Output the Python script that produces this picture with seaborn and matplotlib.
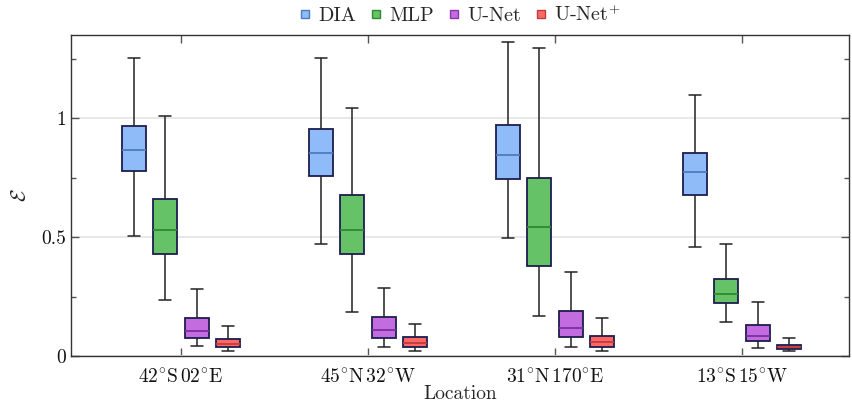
import matplotlib
matplotlib.use("Agg")
import matplotlib.pyplot as plt
from matplotlib.lines import Line2D
from matplotlib.ticker import FixedLocator, MultipleLocator
import seaborn as sns
import pandas as pd

# Locations and models
locations = [r"$42^{\circ}\mathrm{S}\,02^{\circ}\mathrm{E}$",
             r"$45^{\circ}\mathrm{N}\,32^{\circ}\mathrm{W}$",
             r"$31^{\circ}\mathrm{N}\,170^{\circ}\mathrm{E}$",
             r"$13^{\circ}\mathrm{S}\,15^{\circ}\mathrm{W}$"]
models = ["DIA", "MLP", "U-Net", "U-Net$^{+}$"]

# Five-number summaries (min, Q1, median, Q3, max) of the error per location
dia = [[0.506, 0.777, 0.868, 0.966, 1.255],
       [0.471, 0.757, 0.853, 0.955, 1.255],
       [0.496, 0.745, 0.847, 0.973, 1.320],
       [0.459, 0.676, 0.774, 0.854, 1.097]]
mlp = [[0.235, 0.430, 0.528, 0.659, 1.010],
       [0.184, 0.427, 0.530, 0.677, 1.045],
       [0.170, 0.378, 0.544, 0.749, 1.294],
       [0.143, 0.222, 0.260, 0.322, 0.471]]
unet = [[0.042, 0.076, 0.104, 0.159, 0.282],
        [0.038, 0.077, 0.111, 0.163, 0.287],
        [0.038, 0.080, 0.117, 0.188, 0.353],
        [0.035, 0.065, 0.083, 0.129, 0.229]]
unet_plus = [[0.021, 0.038, 0.052, 0.073, 0.128],
             [0.021, 0.038, 0.055, 0.079, 0.136],
             [0.020, 0.037, 0.060, 0.086, 0.159],
             [0.020, 0.031, 0.039, 0.048, 0.076]]

fill_colors = ["#8fbcf9", "#66c266", "#c26cdf", "#ff6767"]
median_colors = ["#4b7cc0", "#2f8a2f", "#7c2fa0", "#c23b3b"]
legend_edges = ["#4b7cc0", "#2f8a2f", "#8a35b0", "#c23b3b"]

rows = []
for model, summaries in zip(models, [dia, mlp, unet, unet_plus]):
    for loc, stats in zip(locations, summaries):
        for v in stats:
            rows.append({"Location": loc, "Model": model, "value": v})
df = pd.DataFrame(rows)

sns.set_style("ticks")
plt.rcParams["font.family"] = ["cmr10", "DejaVu Serif"]
plt.rcParams["mathtext.fontset"] = "cm"
plt.rcParams["axes.formatter.use_mathtext"] = True

fig = plt.figure(figsize=(8.52, 4.04), dpi=100)
ax = fig.add_axes([0.0833, 0.1188, 0.9132, 0.7946])

edge = "#1d1d4f"
sns.boxplot(data=df, x="Location", y="value", hue="Model",
            order=locations, hue_order=models, palette=fill_colors,
            whis=(0, 100), showfliers=False, width=0.667, gap=0.23,
            saturation=1, linewidth=1.2, legend=False, ax=ax,
            boxprops=dict(edgecolor=edge, linewidth=1.3),
            whiskerprops=dict(color="#222222", linewidth=1.1),
            capprops=dict(color="#222222", linewidth=1.1),
            medianprops=dict(linewidth=1.3))

for cont, mc in zip(ax.containers, median_colors):
    for med in cont.medians:
        med.set_color(mc)

ax.set_xlim(-0.588, 3.572)
ax.set_ylim(0, 1.35)
ax.yaxis.set_major_locator(FixedLocator([0, 0.5, 1]))
ax.set_yticklabels(["0", "0.5", "1"])
ax.yaxis.set_minor_locator(MultipleLocator(0.25))
ax.grid(axis="y", which="major", color="#e6e6e6", linewidth=1.3, zorder=0)
ax.set_axisbelow(True)

ax.tick_params(axis="both", which="both", direction="in", top=True, right=True,
               color="#555555", labelsize=14, labelcolor="#111111")
ax.tick_params(axis="both", which="major", length=6, width=1)
ax.tick_params(axis="x", which="major", pad=9)
ax.tick_params(axis="y", which="minor", length=3.5, width=1)
for s in ax.spines.values():
    s.set_color("#333333")
    s.set_linewidth(1.0)

ax.set_xlabel("Location", fontsize=14, labelpad=-1)
ax.set_ylabel("$\\mathcal{E}$", fontsize=15, labelpad=8)

handles = [Line2D([], [], linestyle="none", marker="s", markersize=5.5,
                  markerfacecolor=fc, markeredgecolor=ec, markeredgewidth=1.0)
           for fc, ec in zip(fill_colors, legend_edges)]
ax.legend(handles, models, loc="center", bbox_to_anchor=(0.5, 1.062),
          ncol=4, frameon=False, fontsize=14.5, handlelength=0.6,
          handletextpad=0.35, columnspacing=0.7, borderaxespad=0)

fig.savefig("out.png", dpi=100)
